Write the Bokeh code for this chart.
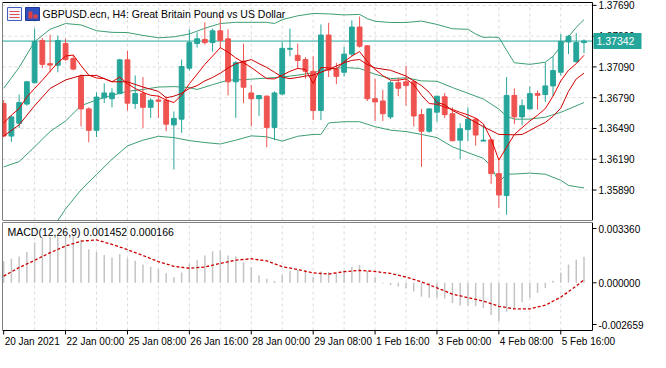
from bokeh.plotting import figure
from bokeh.layouts import column
from bokeh.models import Range1d, ColumnDataSource
from bokeh.core.properties import value
from bokeh.embed import file_html
from bokeh.resources import INLINE

# ---------------- data ----------------
bar_index = list(range(76))
open_ = [1.36733, 1.36416, 1.36541, 1.36728, 1.36936, 1.37348, 1.37122, 1.37106, 1.37318, 1.37171,
         1.36998, 1.36681, 1.36472, 1.36789, 1.36780, 1.36830, 1.37159, 1.36733, 1.36830, 1.36696,
         1.36768, 1.36765, 1.36525, 1.36581, 1.37078, 1.37318, 1.37358, 1.37327, 1.37442, 1.37364,
         1.36945, 1.37147, 1.36836, 1.36780, 1.36805, 1.36500, 1.36826, 1.37262, 1.37203, 1.37162,
         1.37047, 1.36665, 1.37401, 1.37069, 1.37038, 1.37215, 1.37479, 1.37296, 1.36780, 1.36758,
         1.36603, 1.36936, 1.36945, 1.36945, 1.36625, 1.36463, 1.36649, 1.36799, 1.36634, 1.36376,
         1.36479, 1.36581, 1.36367, 1.36379, 1.36050, 1.35836, 1.36812, 1.36603, 1.36681, 1.36830,
         1.36821, 1.36905, 1.37038, 1.37333, 1.37141, 1.37327]
high = [1.36768, 1.36619, 1.36821, 1.36954, 1.37464, 1.37371, 1.37404, 1.37395, 1.37364, 1.37206,
        1.37017, 1.36696, 1.36842, 1.36929, 1.36882, 1.37169, 1.37246, 1.37007, 1.36991, 1.36786,
        1.36812, 1.36805, 1.36656, 1.37162, 1.37457, 1.37427, 1.37525, 1.37464, 1.37597, 1.37457,
        1.37147, 1.37318, 1.36914, 1.36817, 1.36812, 1.36852, 1.37333, 1.37464, 1.37318, 1.37184,
        1.37194, 1.37504, 1.37520, 1.37131, 1.37287, 1.37544, 1.37581, 1.37302, 1.36976, 1.36867,
        1.36954, 1.36985, 1.37100, 1.36961, 1.36681, 1.36687, 1.36805, 1.36836, 1.36696, 1.36541,
        1.36696, 1.36593, 1.36525, 1.36379, 1.36183, 1.36991, 1.36882, 1.36774, 1.36898, 1.36861,
        1.37131, 1.37194, 1.37411, 1.37401, 1.37420, 1.37358]
low = [1.36404, 1.36360, 1.36495, 1.36712, 1.36929, 1.37078, 1.37038, 1.37038, 1.37147, 1.37057,
       1.36510, 1.36355, 1.36407, 1.36737, 1.36696, 1.36824, 1.36665, 1.36681, 1.36495, 1.36593,
       1.36593, 1.36463, 1.36090, 1.36448, 1.37054, 1.37278, 1.37308, 1.37240, 1.37271, 1.36812,
       1.36593, 1.36737, 1.36510, 1.36612, 1.36308, 1.36376, 1.36812, 1.37194, 1.37069, 1.36976,
       1.36572, 1.36572, 1.36991, 1.36923, 1.36998, 1.37194, 1.37278, 1.36758, 1.36563, 1.36563,
       1.36581, 1.36805, 1.36712, 1.36510, 1.36115, 1.36448, 1.36556, 1.36593, 1.36367, 1.36193,
       1.36370, 1.36323, 1.36364, 1.35950, 1.35717, 1.35649, 1.36532, 1.36519, 1.36675, 1.36675,
       1.36749, 1.36805, 1.37007, 1.37215, 1.37131, 1.37224]
close = [1.36416, 1.36603, 1.36743, 1.36945, 1.37339, 1.37115, 1.37108, 1.37348, 1.37162, 1.37069,
         1.36681, 1.36472, 1.36796, 1.36836, 1.36836, 1.37159, 1.36737, 1.36830, 1.36696, 1.36765,
         1.36756, 1.36532, 1.36588, 1.37094, 1.37327, 1.37364, 1.37327, 1.37442, 1.37348, 1.36945,
         1.37131, 1.36892, 1.36780, 1.36812, 1.36500, 1.36836, 1.37271, 1.37271, 1.37153, 1.37047,
         1.36665, 1.37401, 1.37059, 1.36998, 1.37215, 1.37479, 1.37292, 1.36780, 1.36749, 1.36634,
         1.36936, 1.36882, 1.36908, 1.36612, 1.36463, 1.36681, 1.36805, 1.36625, 1.36370, 1.36488,
         1.36581, 1.36426, 1.36376, 1.36050, 1.35842, 1.36812, 1.36603, 1.36712, 1.36830, 1.36814,
         1.36905, 1.37054, 1.37339, 1.37389, 1.37327, 1.37342]

# Bollinger bands (20)
upper_idx = [0, 2, 4, 6, 8, 10, 12, 14, 16, 18, 20, 22, 24, 26, 28, 30, 32, 34, 35, 36, 38, 40, 42,
             44, 46, 47, 48, 50, 52, 54, 56, 58, 60, 61, 62, 63, 64, 65, 66, 68, 70, 71, 72, 74, 75]
upper_val = [1.36882, 1.37085, 1.37336, 1.37457, 1.37513, 1.37499, 1.37443, 1.37427, 1.37425, 1.37397,
             1.37374, 1.37383, 1.37411, 1.37467, 1.37513, 1.37525, 1.37525, 1.37525, 1.37513, 1.37551,
             1.37588, 1.37611, 1.37607, 1.37597, 1.37602, 1.37560, 1.37535, 1.37523, 1.37523, 1.37537,
             1.37504, 1.37462, 1.37457, 1.37411, 1.37378, 1.37380, 1.37378, 1.37252, 1.37131, 1.37115,
             1.37136, 1.37194, 1.37290, 1.37476, 1.37551]
middle_idx = [0, 2, 4, 6, 8, 10, 12, 14, 16, 18, 20, 22, 24, 25, 27, 29, 31, 33, 36, 38, 40, 42, 44,
              46, 48, 50, 52, 54, 56, 58, 60, 62, 64, 65, 66, 68, 70, 72, 75]
middle_val = [1.36115, 1.36167, 1.36311, 1.36460, 1.36563, 1.36712, 1.36768, 1.36814, 1.36852, 1.36870,
              1.36894, 1.36898, 1.36889, 1.36870, 1.36917, 1.36961, 1.36966, 1.36976, 1.36991, 1.37010,
              1.37033, 1.37069, 1.37085, 1.37075, 1.37019, 1.36976, 1.36984, 1.36954, 1.36950, 1.36889,
              1.36833, 1.36777, 1.36679, 1.36609, 1.36581, 1.36581, 1.36600, 1.36647, 1.36743]
lower_idx = [0, 4, 6, 7, 8, 10, 12, 14, 16, 18, 20, 22, 24, 26, 28, 30, 32, 34, 36, 38, 40, 41, 42,
             44, 46, 48, 50, 52, 54, 56, 58, 60, 62, 63, 64, 65, 66, 68, 70, 72, 73, 75]
lower_val = [1.35351, 1.35286, 1.35463, 1.35593, 1.35705, 1.35892, 1.36041, 1.36190, 1.36320, 1.36376,
             1.36414, 1.36401, 1.36372, 1.36353, 1.36339, 1.36376, 1.36418, 1.36409, 1.36367, 1.36414,
             1.36432, 1.36432, 1.36544, 1.36556, 1.36556, 1.36507, 1.36474, 1.36460, 1.36432, 1.36401,
             1.36311, 1.36255, 1.36199, 1.36122, 1.35966, 1.36044, 1.36046, 1.36055, 1.36044, 1.35985,
             1.35935, 1.35910]

# moving averages (red)
ma_fast = [1.36544, 1.36620, 1.36684, 1.36798, 1.36880, 1.36960, 1.37047, 1.37131, 1.37196, 1.37206,
           1.37103, 1.37010, 1.36982, 1.36976, 1.36945, 1.36991, 1.36926, 1.36880, 1.36842, 1.36814,
           1.36805, 1.36768, 1.36743, 1.36814, 1.36926, 1.37019, 1.37115, 1.37196, 1.37278, 1.37234,
           1.37178, 1.37131, 1.37085, 1.37029, 1.36976, 1.36973, 1.37010, 1.37047, 1.37075, 1.37066,
           1.36929, 1.37085, 1.37080, 1.37069, 1.37141, 1.37196, 1.37240, 1.37141, 1.37066, 1.37005,
           1.36961, 1.36961, 1.36973, 1.36917, 1.36814, 1.36733, 1.36726, 1.36698, 1.36675, 1.36647,
           1.36623, 1.36591, 1.36535, 1.36386, 1.36183, 1.36308, 1.36432, 1.36497, 1.36563, 1.36619,
           1.36684, 1.36805, 1.36954, 1.37057, 1.37122, 1.37203]
slow_idx = [0, 2, 4, 6, 8, 10, 12, 14, 16, 18, 20, 21, 22, 23, 24, 25, 26, 27, 28, 29, 30, 31, 32, 33,
            34, 35, 36, 37, 38, 39, 40, 42, 44, 45, 46, 47, 48, 50, 52, 54, 55, 56, 57, 58, 60, 62,
            64, 66, 67, 68, 69, 70, 71, 72, 73, 74, 75]
slow_val = [1.36416, 1.36525, 1.36712, 1.36880, 1.36963, 1.37007, 1.37007, 1.36945, 1.36945, 1.36894,
            1.36852, 1.36789, 1.36805, 1.36833, 1.36880, 1.36908, 1.36954, 1.36987, 1.37029, 1.37080,
            1.37122, 1.37141, 1.37162, 1.37122, 1.37085, 1.37038, 1.36991, 1.36976, 1.36987, 1.37001,
            1.37010, 1.37066, 1.37131, 1.37154, 1.37162, 1.37113, 1.37080, 1.37057, 1.37001, 1.36908,
            1.36842, 1.36743, 1.36721, 1.36665, 1.36591, 1.36507, 1.36432, 1.36428, 1.36432, 1.36470,
            1.36511, 1.36549, 1.36609, 1.36688, 1.36852, 1.36973, 1.37029]

last_price = 1.37342
last_price_label = "1.37342"

# MACD(12,26,9)
macd_hist = [0.00120, 0.00134, 0.00146, 0.00172, 0.00225, 0.00252, 0.00257, 0.00257, 0.00264, 0.00260,
             0.00240, 0.00187, 0.00172, 0.00155, 0.00141, 0.00160, 0.00137, 0.00123, 0.00102, 0.00090,
             0.00075, 0.00053, 0.00031, 0.00058, 0.00106, 0.00128, 0.00152, 0.00176, 0.00180, 0.00152,
             0.00146, 0.00116, 0.00088, 0.00040, 0.00022, 0.00011, 0.00040, 0.00067, 0.00072, 0.00070,
             0.00032, 0.00063, 0.00060, 0.00053, 0.00068, 0.00088, 0.00099, 0.00066, 0.00032, -0.00004,
             -0.00012, -0.00021, -0.00030, -0.00048, -0.00077, -0.00083, -0.00083, -0.00088, -0.00113, -0.00127,
             -0.00127, -0.00130, -0.00141, -0.00180, -0.00215, -0.00162, -0.00141, -0.00109, -0.00083, -0.00056,
             -0.00030, 0.00011, 0.00058, 0.00102, 0.00128, 0.001452]
signal_idx = [0, 2, 4, 6, 8, 10, 12, 14, 16, 18, 20, 22, 24, 26, 28, 30, 32, 34, 36, 38, 40, 42, 44,
              46, 48, 50, 52, 54, 56, 58, 60, 62, 64, 66, 68, 70, 72, 74, 75]
signal_val = [0.00037, 0.00085, 0.00125, 0.00168, 0.00205, 0.00232, 0.00239, 0.00214, 0.00185, 0.00152,
              0.00118, 0.00092, 0.00081, 0.00088, 0.00108, 0.00126, 0.00134, 0.00122, 0.00090, 0.00074,
              0.00055, 0.00049, 0.00062, 0.00069, 0.00063, 0.00052, 0.00032, 0.00005, -0.00028, -0.00063,
              -0.00083, -0.00102, -0.00131, -0.00145, -0.00145, -0.00125, -0.00080, -0.00018, 0.000166]
macd_top = 0.003360
macd_bottom = -0.002659
macd_labels = ["0.003360", "0.000000", "-0.002659"]

price_ticks = [1.35890, 1.36190, 1.36490, 1.36790, 1.37090, 1.37390, 1.37690]
price_labels = ["1.35890", "1.36190", "1.36490", "1.36790", "1.37090", "1.37390", "1.37690"]
time_ticks = [0, 8, 16, 24, 32, 40, 48, 56, 64, 72]
time_labels = ["20 Jan 2021", "22 Jan 00:00", "25 Jan 08:00", "26 Jan 16:00", "28 Jan 00:00",
               "29 Jan 08:00", "1 Feb 16:00", "3 Feb 00:00", "4 Feb 08:00", "5 Feb 16:00"]
grid_ticks = list(range(4, 76, 4))

title_text = "GBPUSD.ecn, H4:  Great Britain Pound vs US Dollar"
macd_text = "MACD(12,26,9) 0.001452 0.000166"

# ---------------- geometry / style ----------------
FONT = value("Liberation Sans")
TEAL = "#26a69a"
RED = "#ef5350"
BAND = "#3d9e72"
MA1 = "#e00000"
MA2 = "#c80000"
GRID = "#dcdcdc"

PANE_W = 590          # width of the pane (pixels) up to the price scale
FULL_W = 646          # pane + price scale area
MAIN_H = 218
TOP_PAD = 2
MACD_H = 108
XAX_H = 22

KX0, KX1 = -0.15, 76.1                  # visible bar span of the pane
ppb = PANE_W / (KX1 - KX0)              # pixels per bar
XEND = KX0 + FULL_W / ppb

YMIN, YMAX = 1.35593, 1.37718
ppu = MAIN_H / (YMAX - YMIN)
YTOP = YMAX + TOP_PAD / ppu

mppu = MACD_H / (macd_top - macd_bottom)
MYMIN = macd_bottom - XAX_H / mppu


def dx(px):
    return px / ppb


def dy(px):
    return px / ppu


def mdy(px):
    return px / mppu


# ---------------- main pane ----------------
p = figure(frame_width=FULL_W, frame_height=MAIN_H + TOP_PAD, x_range=Range1d(KX0, XEND),
           y_range=Range1d(YMIN, YTOP), output_backend="svg", toolbar_location=None,
           x_axis_location=None, y_axis_location=None, min_border_left=2, min_border_top=0,
           min_border_bottom=2, min_border_right=0)
p.outline_line_color = None
p.xgrid.visible = False
p.ygrid.visible = False

# grid
p.segment(x0=[KX0] * len(price_ticks), y0=price_ticks, x1=[KX1] * len(price_ticks), y1=price_ticks,
          line_color=GRID, line_dash="3 3", line_width=1)
p.segment(x0=grid_ticks, y0=[YMIN] * len(grid_ticks), x1=grid_ticks, y1=[YMAX] * len(grid_ticks),
          line_color=GRID, line_dash="3 3", line_width=1)

# bands
p.line(upper_idx, upper_val, color=BAND, line_width=1)
p.line(middle_idx, middle_val, color=BAND, line_width=1)
p.line(lower_idx, lower_val, color=BAND, line_width=1)

# current price line
p.segment(x0=[KX0], y0=[last_price], x1=[KX1], y1=[last_price], line_color=TEAL, line_width=1)

# candles
inc = [c >= o for o, c in zip(open_, close)]
src = ColumnDataSource(dict(
    x=bar_index, h=high, l=low,
    top=[max(o, c) for o, c in zip(open_, close)],
    bottom=[min(o, c) for o, c in zip(open_, close)],
    color=[TEAL if i else RED for i in inc]))
p.segment(x0="x", y0="l", x1="x", y1="h", color="color", line_width=1, source=src)
p.vbar(x="x", width=0.62, top="top", bottom="bottom", fill_color="color",
       line_color="color", line_width=1, source=src)

# moving averages
p.line(bar_index, ma_fast, color=MA1, line_width=1)
p.line(slow_idx, slow_val, color=MA2, line_width=1)

# cover the area above/right of the pane, then draw the frame and the scale
p.quad(left=[KX1], right=[XEND], bottom=[YMIN], top=[YTOP], fill_color="white", line_color=None)
p.quad(left=[KX0], right=[XEND], bottom=[YMAX], top=[YTOP], fill_color="white", line_color=None)
p.quad(left=[KX0], right=[KX1], bottom=[YMIN], top=[YMAX], fill_color=None,
       line_color="black", line_width=1)
p.segment(x0=[KX1] * len(price_ticks), y0=price_ticks, x1=[KX1 + dx(4)] * len(price_ticks),
          y1=price_ticks, line_color="black", line_width=1)
p.text(x=[KX1 + dx(6)] * len(price_ticks), y=price_ticks, text=price_labels, text_font=FONT,
       text_font_size="10px", text_baseline="middle", text_align="left", text_color="black")

# current price tag
p.quad(left=[KX1 + dx(1)], right=[KX1 + dx(49)], bottom=[last_price - dy(8)],
       top=[last_price + dy(8)], fill_color=TEAL, line_color=None)
p.text(x=[KX1 + dx(4)], y=[last_price], text=[last_price_label], text_font=FONT,
       text_font_size="10.5px", text_baseline="middle", text_align="left", text_color="white")

# title + icons
p.quad(left=[KX0 + dx(5)], right=[KX0 + dx(19)], bottom=[YMAX - dy(18)], top=[YMAX - dy(5)],
       fill_color="#f4f4ff", line_color="#4060c0", line_width=1)
p.segment(x0=[KX0 + dx(7)] * 3, y0=[YMAX - dy(9), YMAX - dy(12), YMAX - dy(15)],
          x1=[KX0 + dx(17)] * 3, y1=[YMAX - dy(9), YMAX - dy(12), YMAX - dy(15)],
          line_color="#e05050", line_width=1)
p.quad(left=[KX0 + dx(23)], right=[KX0 + dx(37)], bottom=[YMAX - dy(18)], top=[YMAX - dy(5)],
       fill_color="#3050c0", line_color="#203890", line_width=1)
p.quad(left=[KX0 + dx(26), KX0 + dx(31)], right=[KX0 + dx(30), KX0 + dx(35)],
       bottom=[YMAX - dy(16), YMAX - dy(16)], top=[YMAX - dy(9), YMAX - dy(12)],
       fill_color="#e04040", line_color=None)
p.text(x=[KX0 + dx(40)], y=[YMAX - dy(11.5)], text=[title_text], text_font=FONT,
       text_font_size="10.5px", text_baseline="middle", text_align="left", text_color="black")

# ---------------- MACD pane ----------------
q = figure(frame_width=FULL_W, frame_height=MACD_H + XAX_H, x_range=p.x_range,
           y_range=Range1d(MYMIN, macd_top), output_backend="svg", toolbar_location=None,
           x_axis_location=None, y_axis_location=None, min_border_left=2, min_border_top=0,
           min_border_bottom=0, min_border_right=0)
q.outline_line_color = None
q.xgrid.visible = False
q.ygrid.visible = False

q.segment(x0=grid_ticks, y0=[macd_bottom] * len(grid_ticks), x1=grid_ticks,
          y1=[macd_top] * len(grid_ticks), line_color=GRID, line_dash="3 3", line_width=1)
q.segment(x0=bar_index, y0=[0] * len(bar_index), x1=bar_index, y1=macd_hist,
          color="#c4c4c4", line_width=1.5)
q.line(signal_idx, signal_val, color="#cc0000", line_width=1.3, line_dash="3 2")

q.quad(left=[KX1], right=[XEND], bottom=[MYMIN], top=[macd_top], fill_color="white", line_color=None)
q.quad(left=[KX0], right=[KX1], bottom=[macd_bottom], top=[macd_top], fill_color=None,
       line_color="black", line_width=1)

# price scale of the MACD pane: the extremes are written just inside the pane
m_tick_y = [macd_top - mdy(6), 0.0, macd_bottom + mdy(6)]
q.segment(x0=[KX1] * 3, y0=m_tick_y, x1=[KX1 + dx(4)] * 3, y1=m_tick_y,
          line_color="black", line_width=1)
q.text(x=[KX1 + dx(6)] * 3, y=m_tick_y, text=macd_labels, text_font=FONT,
       text_font_size="10px", text_baseline="middle", text_align="left", text_color="black")

# time scale
q.segment(x0=time_ticks, y0=[macd_bottom] * len(time_ticks), x1=time_ticks,
          y1=[macd_bottom - mdy(4)] * len(time_ticks), line_color="black", line_width=1)
q.text(x=[t + dx(1) for t in time_ticks], y=[macd_bottom - mdy(5)] * len(time_ticks),
       text=time_labels, text_font=FONT, text_font_size="10px", text_baseline="top",
       text_align="left", text_color="black")

q.text(x=[KX0 + dx(5)], y=[macd_top - mdy(9)], text=[macd_text], text_font=FONT,
       text_font_size="10.5px", text_baseline="middle", text_align="left", text_color="black")

layout = column(p, q, spacing=0)
open("out.html", "w").write(file_html(layout, INLINE))
